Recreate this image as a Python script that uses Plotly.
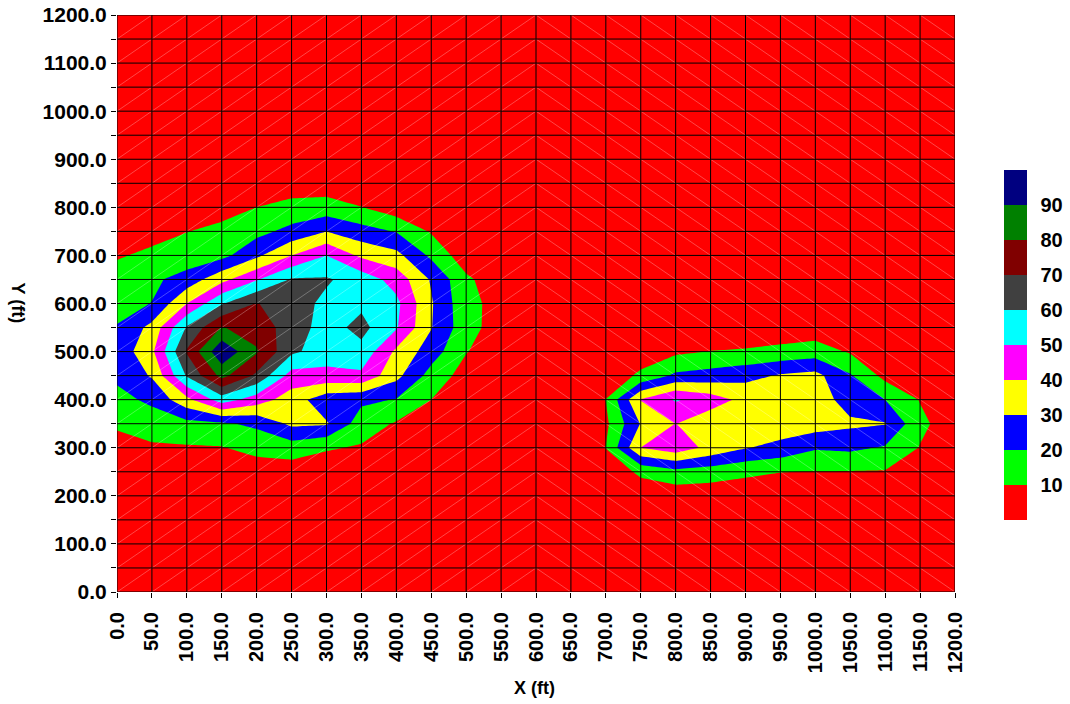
import plotly.graph_objects as go

# grid coordinates (ft)
x_nodes = [0, 50, 100, 150, 200, 250, 300, 350, 400, 450, 500, 550, 600,
           650, 700, 750, 800, 850, 900, 950, 1000, 1050, 1100, 1150, 1200]
y_nodes = [0, 50, 100, 150, 200, 250, 300, 350, 400, 450, 500, 550, 600,
           650, 700, 750, 800, 850, 900, 950, 1000, 1050, 1100, 1150, 1200]

# values per row (y), columns follow x_nodes
z_y0    = [2, 2, 2, 2, 2, 2, 2, 2, 2, 2, 2, 2, 2, 2, 2, 2, 2, 2, 2, 2, 2, 2, 2, 2, 2]
z_y50   = [2, 2, 2, 2, 2, 2, 2, 2, 2, 2, 2, 2, 2, 2, 2, 2, 2, 2, 2, 2, 2, 2, 2, 2, 2]
z_y100  = [2, 2, 2, 2, 2, 2, 2, 2, 2, 2, 2, 2, 2, 2, 2, 2, 2, 2, 2, 2, 2, 2, 2, 2, 2]
z_y150  = [2, 2, 2, 2, 2, 2, 2, 2, 2, 2, 2, 2, 2, 2, 2, 3, 3, 3, 3, 3, 3, 3, 2, 2, 2]
z_y200  = [3, 3, 3, 3, 3, 3, 3, 3, 3, 3, 3, 3, 3, 3, 3, 4, 4, 4, 4, 3.5, 3.5, 3.5, 3, 3, 3]
z_y250  = [3, 3.5, 4, 4, 5, 5, 4, 3, 3, 3, 3, 3, 3, 3, 3, 12, 17, 15, 12, 10.2, 9.8, 9.6, 9.4, 3, 3]
z_y300  = [5, 8.5, 9, 9.5, 13, 15, 11, 9, 5, 3, 3, 3, 3, 3, 10.2, 40, 46, 37, 30.5, 27, 21, 22, 19, 9.5, 3]
z_y350  = [12, 15, 17, 18.5, 22, 32, 31, 15, 9, 4, 3, 3, 3, 3, 8, 30.5, 40.2, 33, 35, 36, 35, 32, 30.5, 12.5, 4]
z_y400  = [17, 22, 37, 55, 45, 35, 24, 22, 19.5, 10, 4, 3, 3, 3, 10.2, 40.5, 51, 45, 37, 37, 36, 25, 20, 9.5, 3]
z_y450  = [22, 31, 61, 83, 68, 46, 47, 48, 33, 16, 6, 3, 3, 3, 3, 12, 22, 24, 27, 31, 33, 21, 7, 3, 3]
z_y500  = [23, 38, 71, 98, 81, 62, 55, 57, 38, 25, 10.5, 4, 3, 3, 2.5, 4, 8, 10.2, 11, 13, 15, 9, 3, 3, 3]
z_y550  = [20.5, 33, 61, 80.5, 76, 65, 56, 63, 51, 30.5, 14, 5, 3, 3, 3, 3, 3, 3, 3, 3, 4, 3, 3, 3, 3]
z_y600  = [17, 20.2, 40, 59, 70.5, 64, 58, 58, 52.5, 31, 13, 6.5, 3, 3, 3, 3, 3, 3, 3, 3, 3, 3, 3, 3, 3]
z_y650  = [13, 18, 24, 37, 49, 61, 61, 56, 46, 29, 12, 3.5, 3, 3, 3, 3, 3, 3, 3, 3, 3, 3, 3, 3, 3]
z_y700  = [9.3, 11.5, 14, 17, 28, 40, 50, 38, 33, 18, 4, 3, 3, 3, 3, 3, 3, 3, 3, 3, 3, 3, 3, 3, 3]
z_y750  = [5, 7.5, 9.8, 12, 17, 23, 30, 24, 19.5, 9, 3.5, 3, 3, 3, 3, 3, 3, 3, 3, 3, 3, 3, 3, 3, 3]
z_y800  = [3, 4, 5, 7, 10, 13, 14, 10.2, 4, 3, 3, 3, 3, 3, 3, 3, 3, 3, 3, 3, 3, 3, 3, 3, 3]
z_y850  = [2, 2.5, 3, 4, 5, 5, 5, 4, 3, 2.5, 2, 2, 2, 2, 2, 2, 2, 2, 2, 2, 2, 2, 2, 2, 2]
z_y900  = [2, 2, 2, 2, 2, 2, 2, 2, 2, 2, 2, 2, 2, 2, 2, 2, 2, 2, 2, 2, 2, 2, 2, 2, 2]
z_y950  = [2, 2, 2, 2, 2, 2, 2, 2, 2, 2, 2, 2, 2, 2, 2, 2, 2, 2, 2, 2, 2, 2, 2, 2, 2]
z_y1000 = [2, 2, 2, 2, 2, 2, 2, 2, 2, 2, 2, 2, 2, 2, 2, 2, 2, 2, 2, 2, 2, 2, 2, 2, 2]
z_y1050 = [2, 2, 2, 2, 2, 2, 2, 2, 2, 2, 2, 2, 2, 2, 2, 2, 2, 2, 2, 2, 2, 2, 2, 2, 2]
z_y1100 = [2, 2, 2, 2, 2, 2, 2, 2, 2, 2, 2, 2, 2, 2, 2, 2, 2, 2, 2, 2, 2, 2, 2, 2, 2]
z_y1150 = [2, 2, 2, 2, 2, 2, 2, 2, 2, 2, 2, 2, 2, 2, 2, 2, 2, 2, 2, 2, 2, 2, 2, 2, 2]
z_y1200 = [2, 2, 2, 2, 2, 2, 2, 2, 2, 2, 2, 2, 2, 2, 2, 2, 2, 2, 2, 2, 2, 2, 2, 2, 2]

z_grid = [z_y0, z_y50, z_y100, z_y150, z_y200, z_y250, z_y300, z_y350, z_y400,
          z_y450, z_y500, z_y550, z_y600, z_y650, z_y700, z_y750, z_y800,
          z_y850, z_y900, z_y950, z_y1000, z_y1050, z_y1100, z_y1150, z_y1200]

# contour classes
level_values = [10, 20, 30, 40, 50, 60, 70, 80, 90]
level_labels = ["10", "20", "30", "40", "50", "60", "70", "80", "90"]
band_colors = ["#FF0000", "#00FF00", "#0000FF", "#FFFF00", "#FF00FF",
               "#00FFFF", "#404040", "#800000", "#008000", "#000080"]
class_min, class_max = 0, 100

x_tick_vals = x_nodes
x_tick_text = ["0.0", "50.0", "100.0", "150.0", "200.0", "250.0", "300.0", "350.0",
               "400.0", "450.0", "500.0", "550.0", "600.0", "650.0", "700.0", "750.0",
               "800.0", "850.0", "900.0", "950.0", "1000.0", "1050.0", "1100.0",
               "1150.0", "1200.0"]
y_tick_vals = y_nodes
y_tick_text = ["0.0", "", "100.0", "", "200.0", "", "300.0", "", "400.0", "", "500.0", "",
               "600.0", "", "700.0", "", "800.0", "", "900.0", "", "1000.0", "",
               "1100.0", "", "1200.0"]

n = len(band_colors)
# contour fill colour map (evaluated at band mid-levels)
contour_scale = [[k / (n - 1), c] for k, c in enumerate(band_colors)]
# stepped scale for the legend bar (0..100, ten equal classes)
step_scale = []
for k, c in enumerate(band_colors):
    step_scale.append([k / n, c])
    step_scale.append([(k + 1) / n, c])

FONT = "Arial, 'Liberation Sans', sans-serif"
YTICK_FS = 21
XTICK_FS = 20
CB_FS = 20
TITLE_FS = 18

fig = go.Figure()
fig.add_trace(go.Contour(
    x=x_nodes, y=y_nodes, z=z_grid,
    colorscale=contour_scale,
    autocontour=False,
    contours=dict(start=level_values[0], end=level_values[-1],
                  size=level_values[1] - level_values[0], coloring="fill"),
    line=dict(width=0, smoothing=0),
    hoverinfo="skip",
    showscale=False,
))

# faint triangulation diagonals
dx, dy = [], []
for i in range(len(x_nodes) - 1):
    for j in range(len(y_nodes) - 1):
        x0, x1 = x_nodes[i], x_nodes[i + 1]
        y0, y1 = y_nodes[j], y_nodes[j + 1]
        if x0 < 600:
            dx += [x0, x1, None]
            dy += [y0, y1, None]
        else:
            dx += [x0, x1, None]
            dy += [y1, y0, None]
fig.add_trace(go.Scatter(x=dx, y=dy, mode="lines",
                         line=dict(color="rgba(255,255,255,0.28)", width=1),
                         hoverinfo="skip", showlegend=False))

# grid lines on top
gx, gy = [], []
for xv in x_nodes:
    gx += [xv, xv, None]
    gy += [y_nodes[0], y_nodes[-1], None]
for yv in y_nodes:
    gx += [x_nodes[0], x_nodes[-1], None]
    gy += [yv, yv, None]
fig.add_trace(go.Scatter(x=gx, y=gy, mode="lines",
                         line=dict(color="black", width=1),
                         hoverinfo="skip", showlegend=False))

# class legend bar (0-100 in ten classes)
fig.add_trace(go.Scatter(
    x=[None], y=[None], mode="markers", showlegend=False, hoverinfo="skip",
    marker=dict(
        color=[class_min], colorscale=step_scale, cmin=class_min, cmax=class_max,
        showscale=True,
        colorbar=dict(
            x=1.0585, xanchor="left", xpad=0,
            y=0.428, yanchor="middle", ypad=0,
            lenmode="pixels", len=350, thickness=23,
            outlinewidth=0, ticks="outside", ticklen=10,
            tickcolor="rgba(0,0,0,0)",
            tickmode="array", tickvals=level_values, ticktext=level_labels,
            tickfont=dict(family=FONT, size=CB_FS, color="black", weight="bold"),
        ),
    ),
))

fig.update_layout(
    width=1070, height=704,
    margin=dict(l=117, r=115, t=15, b=112, autoexpand=False),
    paper_bgcolor="white", plot_bgcolor="#FF0000",
    showlegend=False,
    font=dict(family=FONT, color="black"),
    xaxis=dict(range=[0, 1200], showgrid=False, zeroline=False, automargin=False,
               ticks="outside", ticklen=5, tickcolor="black",
               tickmode="array", tickvals=x_tick_vals, ticktext=x_tick_text,
               tickangle=-90, ticklabelstandoff=6,
               tickfont=dict(family=FONT, size=XTICK_FS, color="black", weight="bold"),
               title=None),
    yaxis=dict(range=[0, 1200], showgrid=False, zeroline=False, automargin=False,
               ticks="outside", ticklen=5, tickcolor="black",
               tickmode="array", tickvals=y_tick_vals, ticktext=y_tick_text,
               tickfont=dict(family=FONT, size=YTICK_FS, color="black", weight="bold"),
               title=None),
    annotations=[
        dict(text="X (ft)", x=0.4988, y=-0.166, xref="paper", yref="paper",
             showarrow=False, xanchor="center", yanchor="middle",
             font=dict(family=FONT, size=TITLE_FS, color="black", weight="bold")),
        dict(text="Y (ft)", x=-0.117, y=0.50, xref="paper", yref="paper",
             showarrow=False, xanchor="center", yanchor="middle", textangle=90,
             font=dict(family=FONT, size=TITLE_FS, color="black", weight="bold")),
    ],
)

fig.write_html("out.html")
